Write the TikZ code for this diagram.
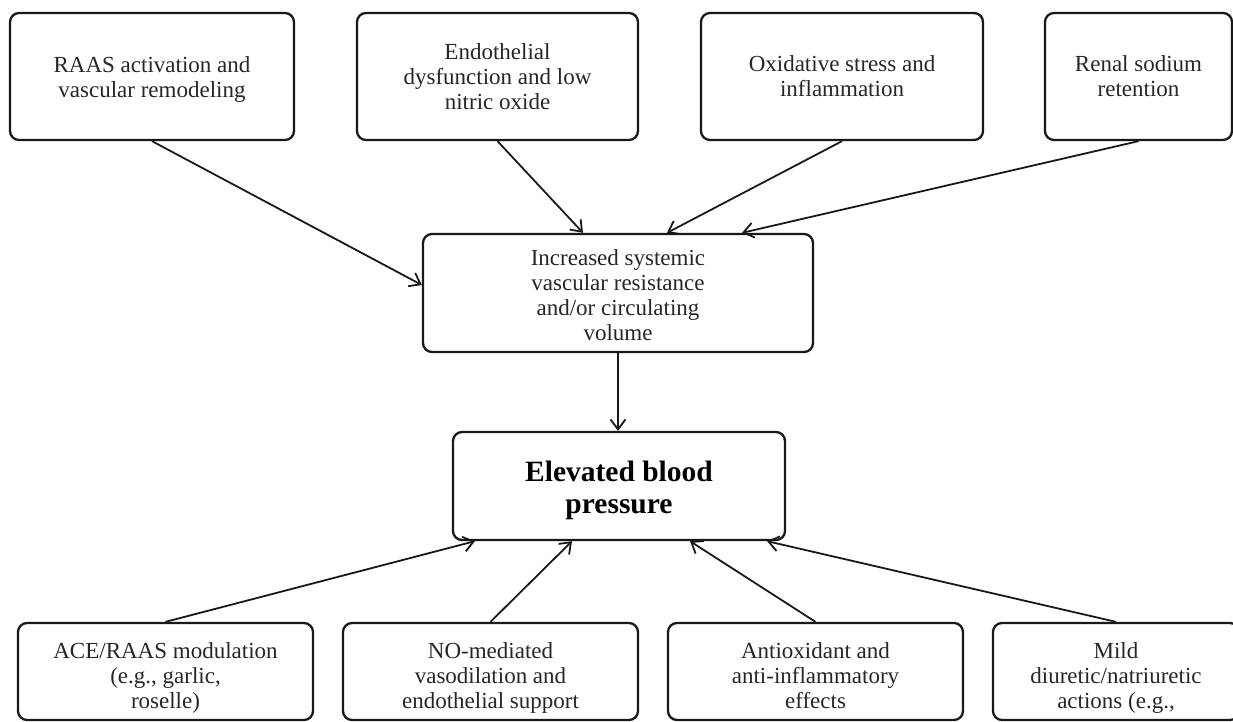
\documentclass[tikz,border=0pt]{standalone}
\usepackage{fontspec}
\setmainfont{Liberation Serif}
\usetikzlibrary{arrows.meta}
\newcommand{\topstrut}[1]{\rule{0pt}{#1}}
\newcommand{\depthstrut}{\rule[-5pt]{0pt}{5pt}}
\tikzset{
  box/.style={draw=black!90, line width=2.3pt, rounded corners=9pt, align=center,
    inner sep=0pt, font=\fontsize{23}{24.8}\selectfont, text=black!85},
  bigbox/.style={box, font=\fontsize{29.5}{31.7}\selectfont\bfseries, text=black},
  arr/.style={draw=black!90, line width=1.8pt, -{Straight Barb[length=10pt,width=15pt,line width=1.8pt]}}
}
\begin{document}
\begin{tikzpicture}[x=1pt,y=-1pt]
\useasboundingbox (0,0) rectangle (1233,722);
\clip (0,0) rectangle (1233,722);
% top row
\node[box, minimum width=284pt, minimum height=127pt] (raas) at (152,76.5) {\topstrut{22pt}RAAS activation and\\vascular remodeling};
\node[box, minimum width=281pt, minimum height=127pt] (endo) at (497.5,76.5) {Endothelial\\dysfunction and low\\nitric oxide};
\node[box, minimum width=282pt, minimum height=127pt] (oxi) at (842,76.5) {\topstrut{20pt}Oxidative stress and\\inflammation\depthstrut};
\node[box, minimum width=187pt, minimum height=127pt] (renal) at (1138.5,76.5) {\topstrut{20pt}Renal sodium\\retention\depthstrut};
% middle
\node[box, minimum width=390pt, minimum height=118pt] (mid) at (618,293) {\topstrut{20pt}Increased systemic\\vascular resistance\\and/or circulating\\volume};
\node[bigbox, minimum width=332pt, minimum height=108pt] (bp) at (619,486) {\topstrut{29pt}Elevated blood\\pressure};
% bottom row
\node[box, minimum width=295pt, minimum height=97pt] (ace) at (165.5,671.5) {\topstrut{29pt}ACE/RAAS modulation\\(e.g., garlic,\\roselle)};
\node[box, minimum width=295pt, minimum height=97pt] (no) at (490.5,671.5) {\topstrut{29pt}NO-mediated\\vasodilation and\\endothelial support};
\node[box, minimum width=295pt, minimum height=97pt] (anti) at (815.5,671.5) {\topstrut{29pt}Antioxidant and\\anti-inflammatory\\effects\depthstrut};
\node[box, minimum width=246pt, minimum height=97pt] (mild) at (1116,671.5) {\topstrut{29pt}Mild\\diuretic/natriuretic\\actions (e.g.,};
% arrows top
\draw[arr] (raas.south) -- ([yshift=8pt]mid.west);
\draw[arr] (endo.south) -- ([xshift=-35pt]mid.north);
\draw[arr] (oxi.south) -- ([xshift=49pt]mid.north);
\draw[arr] (renal.south) -- ([xshift=124pt]mid.north);
\draw[arr] (mid.south) -- (mid.south |- bp.north);
% arrows bottom
\draw[arr] (ace.north) -- ([xshift=-144pt]bp.south);
\draw[arr] (no.north) -- ([xshift=-47pt]bp.south);
\draw[arr] (anti.north) -- ([xshift=71pt]bp.south);
\draw[arr] (mild.north) -- ([xshift=148pt]bp.south);
\end{tikzpicture}
\end{document}
